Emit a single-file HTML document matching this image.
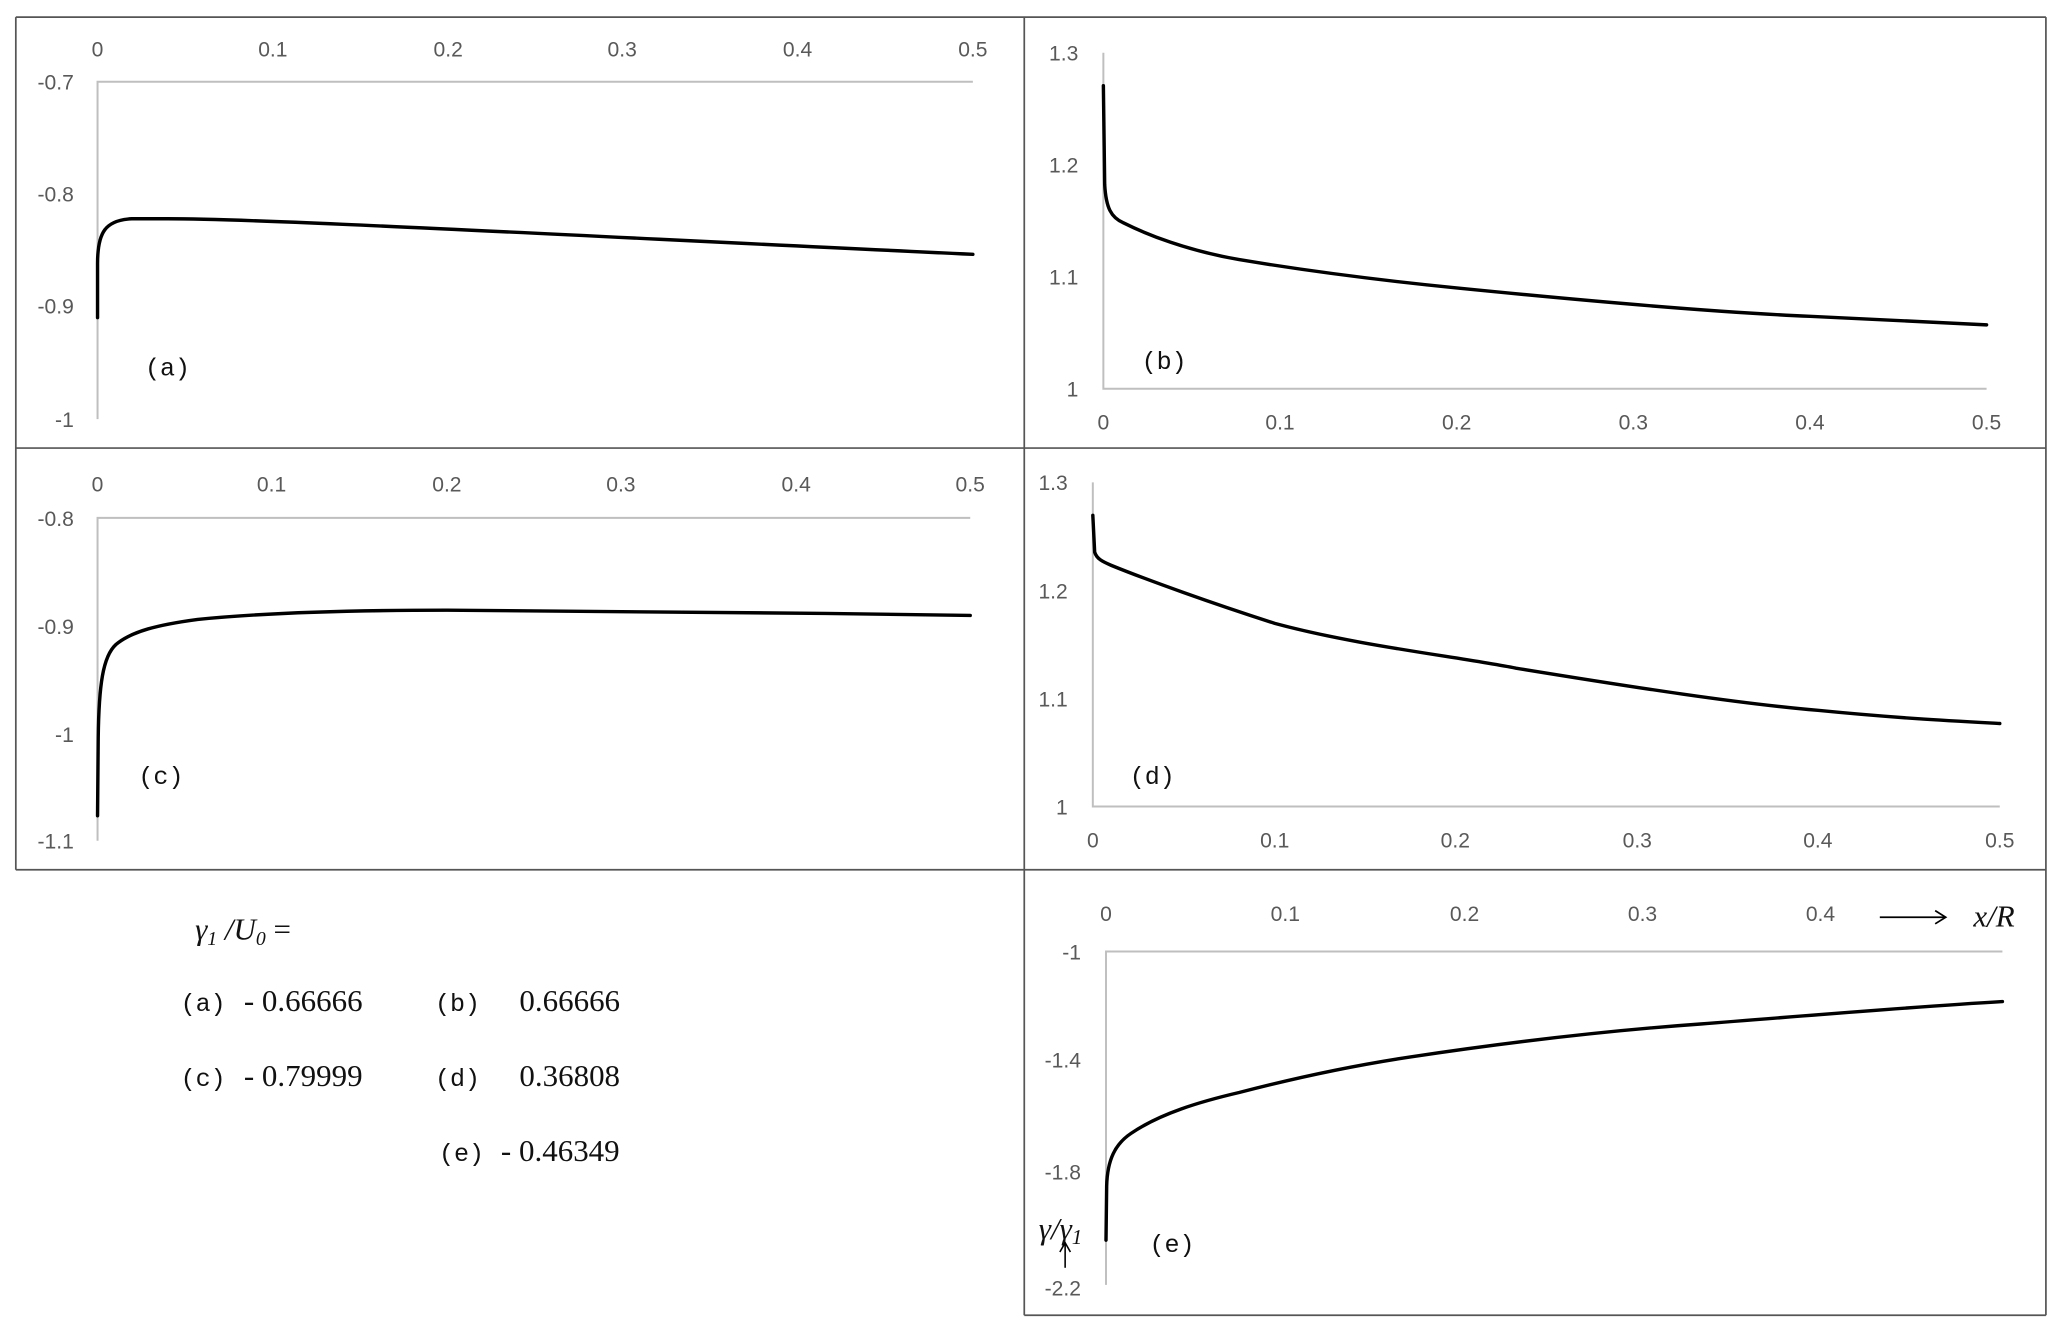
<!DOCTYPE html>
<html><head><style>
html,body{margin:0;padding:0;background:#fff;}
svg{display:block;}
.t{font-family:"Liberation Sans",sans-serif;font-size:16px;fill:#595959;}
.m{font-family:"Liberation Mono",monospace;font-size:19px;fill:#111;}
.s{font-family:"Liberation Serif",serif;font-size:23.5px;fill:#111;}
.ax{stroke:#bfbfbf;stroke-width:1.5;fill:none;}
.fr{stroke:#555;stroke-width:1.3;fill:none;}
.c{stroke:#000;stroke-width:2.6;fill:none;stroke-linejoin:round;stroke-linecap:round;}
</style></head><body>
<svg width="2067" height="1335" viewBox="0 0 1568 1013" preserveAspectRatio="none" xmlns="http://www.w3.org/2000/svg">
<path class="fr" d="M12,13H1552 M12,13V660 M777,13V998 M1552,13V998 M12,340H1552 M12,660H1552 M777,998H1552"/>

<!-- panel a -->
<g class="t" text-anchor="middle">
<text x="74" y="43">0</text><text x="207" y="43">0.1</text><text x="340" y="43">0.2</text><text x="472" y="43">0.3</text><text x="605" y="43">0.4</text><text x="738" y="43">0.5</text>
</g>
<g class="t" text-anchor="end">
<text x="56" y="68">-0.7</text><text x="56" y="153">-0.8</text><text x="56" y="238">-0.9</text><text x="56" y="324">-1</text>
</g>
<path class="ax" d="M74,318V62H738"/>
<path class="c" d="M74,241 L74,200 C74,176 80,167 100,166 L127,166 C200,166 400,177 738,193"/>
<text class="m" x="110" y="285">(a)</text>

<!-- panel b -->
<g class="t" text-anchor="end">
<text x="818" y="46">1.3</text><text x="818" y="131">1.2</text><text x="818" y="216">1.1</text><text x="818" y="301">1</text>
</g>
<g class="t" text-anchor="middle">
<text x="837" y="326">0</text><text x="971" y="326">0.1</text><text x="1105" y="326">0.2</text><text x="1239" y="326">0.3</text><text x="1373" y="326">0.4</text><text x="1507" y="326">0.5</text>
</g>
<path class="ax" d="M837,40V295H1507"/>
<path class="c" d="M837,65 L838,140 C839,158 843,165 852,169 C870,178 900,190 940,197 C1000,207 1060,214 1105,218.5 C1200,228 1300,237 1373,240 C1430,243 1480,245 1507,246.5"/>
<text class="m" x="866" y="280">(b)</text>

<!-- panel c -->
<g class="t" text-anchor="middle">
<text x="74" y="373">0</text><text x="206" y="373">0.1</text><text x="339" y="373">0.2</text><text x="471" y="373">0.3</text><text x="604" y="373">0.4</text><text x="736" y="373">0.5</text>
</g>
<g class="t" text-anchor="end">
<text x="56" y="399">-0.8</text><text x="56" y="481">-0.9</text><text x="56" y="563">-1</text><text x="56" y="644">-1.1</text>
</g>
<path class="ax" d="M74,638V393H736"/>
<path class="c" d="M74,619 L74.5,560 C75,520 78,498 88,489 C100,479 120,474 150,470 C200,465 260,463 339,463 C450,463 600,465 736,467"/>
<text class="m" x="105" y="595">(c)</text>

<!-- panel d -->
<g class="t" text-anchor="end">
<text x="810" y="372">1.3</text><text x="810" y="454">1.2</text><text x="810" y="536">1.1</text><text x="810" y="618">1</text>
</g>
<g class="t" text-anchor="middle">
<text x="829" y="643">0</text><text x="967" y="643">0.1</text><text x="1104" y="643">0.2</text><text x="1242" y="643">0.3</text><text x="1379" y="643">0.4</text><text x="1517" y="643">0.5</text>
</g>
<path class="ax" d="M829,366V612H1517"/>
<path class="c" d="M829,391 L830.4,419 C832,424 836,426 843,429 C870,440 920,458 967,473 C1030,490 1104,498 1150,507 C1242,522 1320,534 1379,539 C1440,545 1480,547 1517,549"/>
<text class="m" x="857" y="595">(d)</text>

<!-- panel e -->
<g class="t" text-anchor="middle">
<text x="839" y="699">0</text><text x="975" y="699">0.1</text><text x="1111" y="699">0.2</text><text x="1246" y="699">0.3</text><text x="1381" y="699">0.4</text>
</g>
<g class="t" text-anchor="end">
<text x="820" y="728">-1</text><text x="820" y="810">-1.4</text><text x="820" y="895">-1.8</text><text x="820" y="983">-2.2</text>
</g>
<path class="ax" d="M839,975V722H1519"/>
<path class="c" d="M839,941 L839.5,900 C840,880 846,868 858,860 C880,845 910,836 940,829 C990,816 1030,808 1070,802 C1150,790 1220,782 1290,777 C1380,770 1450,764 1519,760"/>
<text class="m" x="872" y="950">(e)</text>
<line x1="1426" y1="696" x2="1475" y2="696" stroke="#000" stroke-width="1.3"/>
<path d="M1468,691 L1476,696 L1468,701" stroke="#000" stroke-width="1.3" fill="none"/>
<text class="s" x="1497" y="703" font-style="italic" font-size="25">x/R</text>
<text class="s" x="788" y="940" font-style="italic" font-size="25">γ/γ<tspan font-size="16" dy="4">1</tspan></text>
<line x1="808" y1="962" x2="808" y2="944" stroke="#000" stroke-width="1.2"/>
<path d="M804,950 L808,943 L812,950" stroke="#000" stroke-width="1.2" fill="none"/>

<!-- legend text -->
<text class="s" x="148" y="713" font-style="italic">γ<tspan font-size="15" dy="4">1</tspan><tspan dy="-4"> /U</tspan><tspan font-size="15" dy="4">0</tspan><tspan dy="-4" font-style="normal"> =</tspan></text>
<text class="m" x="137" y="767">(a)</text><text class="s" x="185" y="767">- 0.66666</text>
<text class="m" x="330" y="767">(b)</text><text class="s" x="394" y="767">0.66666</text>
<text class="m" x="137" y="824">(c)</text><text class="s" x="185" y="824">- 0.79999</text>
<text class="m" x="330" y="824">(d)</text><text class="s" x="394" y="824">0.36808</text>
<text class="m" x="333" y="881">(e)</text><text class="s" x="380" y="881">- 0.46349</text>
</svg>
</body></html>
